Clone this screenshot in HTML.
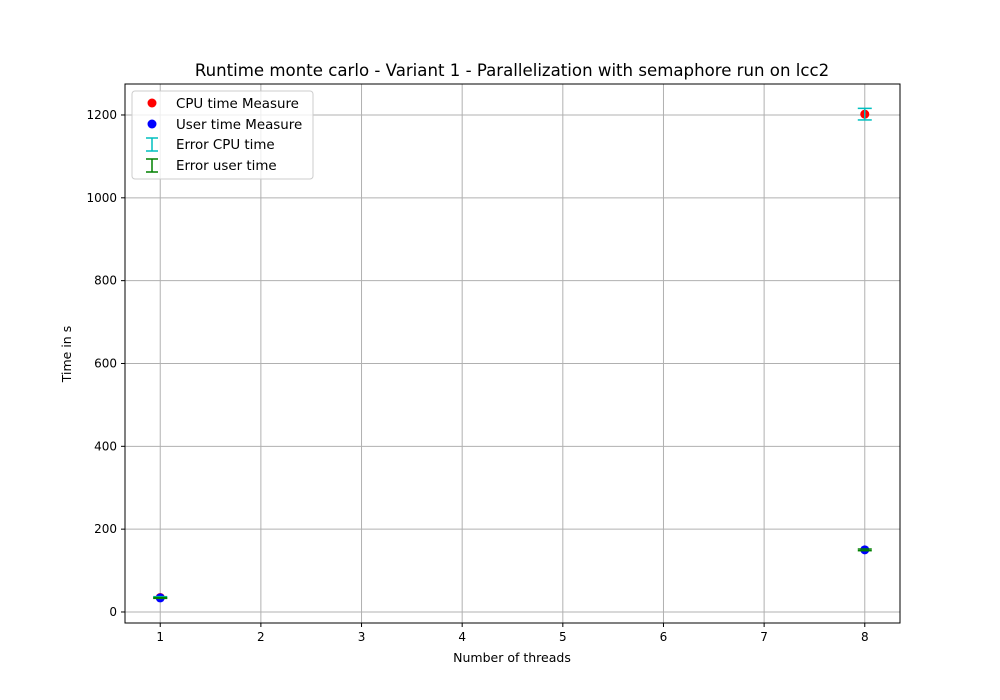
<!DOCTYPE html>
<html><head><meta charset="utf-8"><style>
body{margin:0;background:#fff;}
svg{display:block;font-family:"DejaVu Sans","Liberation Sans",sans-serif;}
</style></head><body>
<svg id="chart" width="1000" height="700"></svg>
<script>
const threads = [1, 8];
const cpuTime = [35, 1202];
const userTime = [34, 150];
const cpuErr = [2, 14];
const userErr = [1, 2];
const xTicks = [1, 2, 3, 4, 5, 6, 7, 8];
const yTicks = [0, 200, 400, 600, 800, 1000, 1200];

const L=125,R=900,T=84,B=623;
const xMin=0.65,xMax=8.35,yMin=-26.6,yMax=1274.8;
const xs=v=>L+(v-xMin)/(xMax-xMin)*(R-L);
const ys=v=>B-(v-yMin)/(yMax-yMin)*(B-T);
const svg=document.getElementById('chart');
const NS='http://www.w3.org/2000/svg';
function mk(tag,attrs,parent){const e=document.createElementNS(NS,tag);for(const k in attrs)e.setAttribute(k,attrs[k]);(parent||svg).appendChild(e);return e;}

xTicks.forEach(t=>{
  const g=mk('line',{x1:xs(t),x2:xs(t),y1:T,y2:B,stroke:'#b0b0b0','stroke-width':1});
  
  
  const tk=mk('line',{x1:xs(t),x2:xs(t),y1:B,y2:B+4,stroke:'#000'});
  
  
  const tx=mk('text',{x:xs(t),y:B+18,'text-anchor':'middle','font-size':12});
  tx.textContent=t;
  
  
});
yTicks.forEach(t=>{
  const g=mk('line',{x1:L,x2:R,y1:ys(t),y2:ys(t),stroke:'#b0b0b0','stroke-width':1});
  
  
  const tk=mk('line',{x1:L-4,x2:L,y1:ys(t),y2:ys(t),stroke:'#000'});
  
  
  const tx=mk('text',{x:L-8,y:ys(t)+4,'text-anchor':'end','font-size':12});
  tx.textContent=t;
  
  
});
const frame=mk('rect',{x:L,y:T,width:R-L,height:B-T,fill:'none',stroke:'#000','stroke-width':1});



function errbar(x,y,e,color,name){
  const g=mk('g',{});
  
  
  const cx=xs(x);
  mk('line',{x1:cx,x2:cx,y1:ys(y-e),y2:ys(y+e),stroke:color,'stroke-width':1.5},g);
  mk('line',{x1:cx-7,x2:cx+7,y1:ys(y-e),y2:ys(y-e),stroke:color,'stroke-width':1.5},g);
  mk('line',{x1:cx-7,x2:cx+7,y1:ys(y+e),y2:ys(y+e),stroke:color,'stroke-width':1.5},g);
}
threads.forEach((x,i)=>{
  const c=mk('circle',{cx:xs(x),cy:ys(cpuTime[i]),r:4.5,fill:'red'});
  
  
});
threads.forEach((x,i)=>{
  const c=mk('circle',{cx:xs(x),cy:ys(userTime[i]),r:4.5,fill:'blue'});
  
  
});
threads.forEach((x,i)=>errbar(x,cpuTime[i],cpuErr[i],'#00bfbf','cpu-error-bar'));
threads.forEach((x,i)=>errbar(x,userTime[i],userErr[i],'green','user-error-bar'));
</script>
<svg style="position:absolute;left:0;top:0" width="1000" height="700">
<text x="512" y="76" text-anchor="middle" font-size="16.6" font-family="DejaVu Sans,Liberation Sans,sans-serif">Runtime monte carlo - Variant 1 - Parallelization with semaphore run on lcc2</text>
<text x="512" y="662" text-anchor="middle" font-size="12.5" font-family="DejaVu Sans,Liberation Sans,sans-serif">Number of threads</text>
<text x="71" y="354" text-anchor="middle" font-size="12.5" font-family="DejaVu Sans,Liberation Sans,sans-serif" transform="rotate(-90 71 354)">Time in s</text>
<g font-family="DejaVu Sans,Liberation Sans,sans-serif" font-size="13.4">
<rect x="132" y="91" width="181" height="88" rx="3" fill="#fff" fill-opacity="0.8" stroke="#ccc"/>
<g><circle cx="152" cy="103" r="4.5" fill="red"/><text x="176" y="108">CPU time Measure</text></g>
<g><circle cx="152" cy="124" r="4.5" fill="blue"/><text x="176" y="129">User time Measure</text></g>
<g stroke="#00bfbf" stroke-width="1.5"><line x1="152" x2="152" y1="138" y2="151"/><line x1="146" x2="158" y1="138" y2="138"/><line x1="146" x2="158" y1="151" y2="151"/></g>
<text x="176" y="149">Error CPU time</text>
<g stroke="green" stroke-width="1.5"><line x1="152" x2="152" y1="159" y2="172"/><line x1="146" x2="158" y1="159" y2="159"/><line x1="146" x2="158" y1="172" y2="172"/></g>
<text x="176" y="170">Error user time</text>
</g>
</svg>
</body></html>
